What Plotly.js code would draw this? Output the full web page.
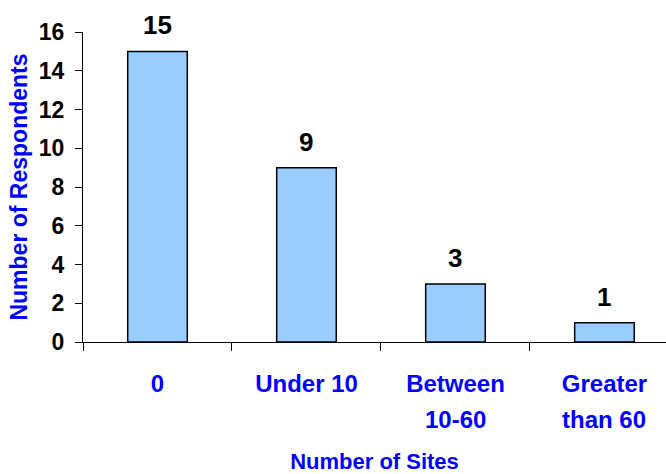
<!DOCTYPE html>
<html>
<head>
<meta charset="utf-8">
<script src="https://cdn.plot.ly/plotly-3.0.1.min.js"></script>
<style>html,body{margin:0;padding:0;background:#fff;}#chart{width:666px;height:474px;}</style>
</head>
<body>
<div id="chart"></div>
<script>
var categories = ["0", "Under 10", "Between 10-60", "Greater than 60"];
var labelLine1 = ["0", "Under 10", "Between", "Greater"];
var labelLine2 = ["", "", "10-60", "than 60"];
var respondents = [15, 9, 3, 1];
var yTicks = [0, 2, 4, 6, 8, 10, 12, 14, 16];

var FONT = "Liberation Sans, Arial, sans-serif";
var BLUE = "#0000ff";

var trace = {
  type: "bar",
  x: categories,
  y: respondents,
  width: 0.4,
  marker: {color: "#99ccff", line: {color: "#000000", width: 1.5}},
  hoverinfo: "none"
};

var annotations = [];
for (var i = 0; i < categories.length; i++) {
  annotations.push({
    x: categories[i], y: respondents[i], xref: "x", yref: "y",
    text: String(respondents[i]), showarrow: false,
    yanchor: "bottom", yshift: 9,
    font: {family: FONT, size: 26, color: "#000000", weight: "bold"}
  });
  if (labelLine2[i]) {
    annotations.push({
      x: categories[i], y: -0.2516, xref: "x", yref: "paper",
      text: labelLine2[i], showarrow: false, yanchor: "middle",
      font: {family: FONT, size: 24, color: BLUE, weight: "bold"}
    });
  }
}

var layout = {
  width: 666, height: 474,
  margin: {l: 83, r: 0, t: 32, b: 132},
  paper_bgcolor: "#ffffff", plot_bgcolor: "#ffffff",
  showlegend: false,
  font: {family: FONT},
  xaxis: {
    type: "category",
    range: [-0.5, 3.413],
    tickmode: "array",
    tickvals: categories,
    ticktext: labelLine1,
    tickson: "boundaries",
    ticks: "outside", ticklen: 8, tickwidth: 1, tickcolor: "#000000",
    ticklabelstandoff: 20,
    showline: true, linecolor: "#000000", linewidth: 1,
    showgrid: false, zeroline: false,
    tickfont: {family: FONT, size: 24, color: BLUE, weight: "bold"},
    title: {text: "Number of Sites", standoff: 58,
            font: {family: FONT, size: 22, color: BLUE, weight: "bold"}}
  },
  yaxis: {
    range: [0, 16],
    tickmode: "array",
    tickvals: yTicks,
    ticks: "outside", ticklen: 7, tickwidth: 1, tickcolor: "#000000",
    ticklabelstandoff: 6,
    showline: true, linecolor: "#000000", linewidth: 1,
    showgrid: false, zeroline: false,
    tickfont: {family: FONT, size: 23, color: "#000000", weight: "bold"},
    title: {text: "Number of Respondents", standoff: 4,
            font: {family: FONT, size: 23, color: BLUE, weight: "bold"}}
  },
  annotations: annotations
};

Plotly.newPlot("chart", [trace], layout, {displayModeBar: false, staticPlot: true});
</script>
</body>
</html>
